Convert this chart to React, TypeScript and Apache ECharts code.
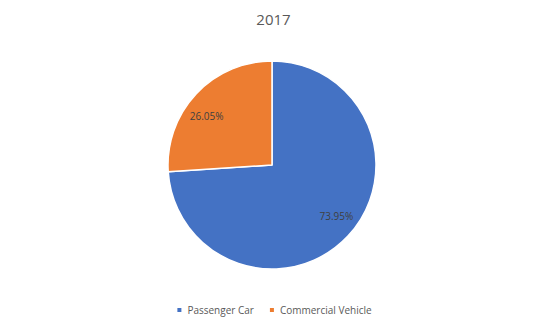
import React, { useEffect, useRef } from "react";
import * as echarts from "echarts";

const title = "2017";
const categories = ["Passenger Car", "Commercial Vehicle"];
const values = [73.95, 26.05];
const colors = ["#4472C4", "#ED7D31"];
const labelOffsets = [
  [3, -6],
  [-4, 8],
];

export default function App() {
  const ref = useRef<HTMLDivElement>(null);
  useEffect(() => {
    if (!ref.current) return;
    const chart = echarts.init(ref.current, undefined, { renderer: "svg" });
    const data = categories.map((name, i) => ({
      name,
      value: values[i],
      itemStyle: { color: colors[i] },
    }));
    chart.setOption({
      animation: false,
      backgroundColor: "#ffffff",
      title: {
        text: title,
        left: "center",
        top: 6,
        textStyle: {
          fontFamily: "Open Sans",
          fontSize: 15,
          fontWeight: "normal",
          color: "#595959",
        },
      },
      legend: {
        bottom: 6,
        left: "center",
        itemWidth: 6,
        itemHeight: 6,
        itemGap: 14,
        icon: "rect",
        data: categories.map((name, i) => ({ name, itemStyle: { color: colors[i] } })),
        textStyle: { fontFamily: "Open Sans", fontSize: 10, color: "#595959" },
      },
      series: [
        {
          type: "pie",
          center: [272, 165],
          radius: [0, 104],
          startAngle: 90,
          clockwise: true,
          data,
          label: { show: false },
          labelLine: { show: false },
          itemStyle: { borderColor: "#ffffff", borderWidth: 1.5 },
          silent: true,
        },
        {
          type: "pie",
          center: [272, 165],
          radius: [58, 104],
          startAngle: 90,
          clockwise: true,
          data: categories.map((name, i) => ({
            name,
            value: values[i],
            label: { offset: labelOffsets[i] },
          })),
          itemStyle: { color: "rgba(0,0,0,0)" },
          label: {
            show: true,
            position: "inside",
            formatter: (p: any) => p.value.toFixed(2) + "%",
            fontFamily: "Open Sans",
            fontSize: 10,
            color: "#404040",
          },
          labelLine: { show: false },
          silent: true,
        },
      ],
    });
    return () => chart.dispose();
  }, []);
  return (
    <div
      ref={ref}
      style={{ position: "fixed", left: 0, top: 0, width: 547, height: 326 }}
    />
  );
}
